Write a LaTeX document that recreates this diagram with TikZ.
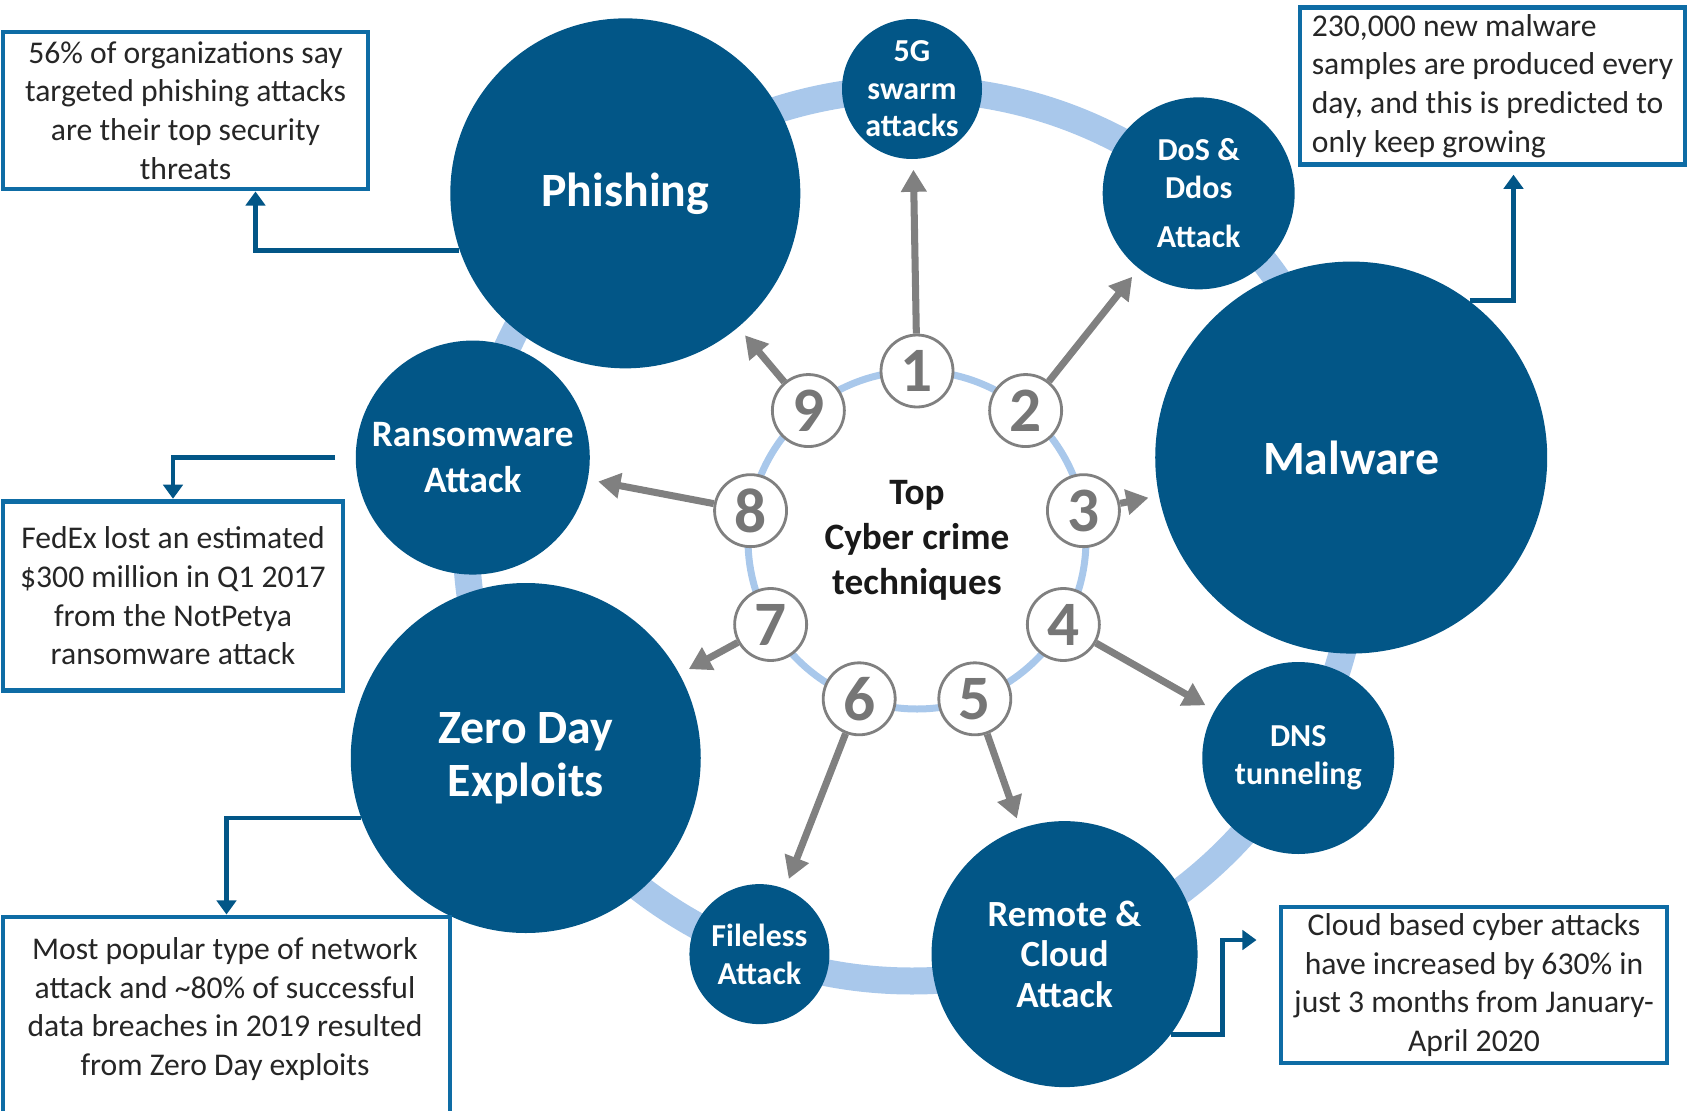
\documentclass[tikz,border=0pt]{standalone}
\usepackage{fontspec}
\setmainfont{Carlito}
\usetikzlibrary{arrows.meta,positioning}

\definecolor{circblue}{RGB}{2,86,135}
\definecolor{ringblue}{RGB}{169,200,235}
\definecolor{boxblue}{RGB}{14,108,165}
\definecolor{spokegray}{RGB}{128,128,128}
\definecolor{numgray}{RGB}{118,118,118}
\definecolor{notegray}{RGB}{38,38,38}

\begin{document}
\begin{tikzpicture}[
				circ/.style = {circle, fill=circblue, text=white, inner sep=0pt, align=center},
				bigtxt/.style = {font=\bfseries\fontsize{13.6}{15}\selectfont},
				smalltxt/.style = {font=\bfseries\fontsize{9.1}{10.7}\selectfont},
				num/.style = {circle, draw=spokegray, line width=0.8pt, fill=white, minimum size=0.72cm,
					inner sep=0pt, text=numgray, font=\bfseries\fontsize{18}{18}\selectfont},
				spoke/.style = {-{Triangle[length=6.3pt,width=7pt]}, spokegray, line width=2pt, shorten >=0.1cm},
				notebox/.style = {draw=boxblue, line width=1.4pt, fill=white, inner sep=0pt,
					text=notegray, font=\fontsize{9}{11}\selectfont},
				callout/.style = {-{Triangle[length=4pt,width=5.5pt]}, circblue, line width=1.3pt}
			]

			\useasboundingbox (0,0) rectangle (16.91,11.10);
			\clip (0,0) rectangle (16.91,11.10);

			% outer ring of attack types
			\begin{scope}[shift={(9.12,5.75)}]
				\draw[ringblue, line width=0.27cm] (0,0) circle (4.46);

				\node[circ, minimum size=1.40cm, smalltxt] (c1) at (90:4.46) {5G\\swarm\\attacks};
				\node[circ, minimum size=1.92cm, smalltxt] (c2) at (50:4.46) {DoS \&\\Ddos\\[3.4pt]Attack};
				\node[circ, minimum size=3.92cm, bigtxt] (c3) at (10:4.46) {Malware};
				\node[circ, minimum size=1.92cm, smalltxt] (c4) at (-30:4.46) {DNS\\tunneling};
				\node[circ, minimum size=2.66cm, font=\bfseries\fontsize{10.5}{11.5}\selectfont] (c5) at (-70:4.46) {Remote \&\\Cloud\\Attack};
				\node[circ, minimum size=1.40cm, smalltxt] (c6) at (-110:4.46) {Fileless\\Attack};
				\node[circ, minimum size=3.50cm, bigtxt] (c7) at (-150:4.46) {Zero Day\\Exploits};
				\node[circ, minimum size=2.34cm, font=\bfseries\fontsize{10.6}{12.9}\selectfont] (c8) at (170:4.46) {Ransomware\\Attack};
				\node[circ, minimum size=3.50cm, bigtxt] (c9) at (130:4.46) {Phishing};
			\end{scope}

			% inner ring with the numbers
			\begin{scope}[shift={(9.17,5.70)}]
				\draw[ringblue, line width=0.07cm] (0,0) circle (1.69);
				\node[align=center, text=black!90, font=\bfseries\fontsize{10.6}{12.8}\selectfont] (title) at (0,0) {Top\\Cyber crime\\techniques};
				\foreach \i in {1,...,9}
					\node[num] (n\i) at ({130-40*\i}:1.69) {\i};
			\end{scope}

			\foreach \i in {1,...,9}
				\draw[spoke] (n\i) -- (c\i);

			% facts
			\node[notebox, minimum width=3.65cm, minimum height=1.57cm, align=center] (note1) at (1.855,9.995)
				{56\% of organizations say\\targeted phishing attacks\\are their top security\\threats};
			\node[notebox, minimum width=3.85cm, minimum height=1.565cm, align=left] (note2) at (14.925,10.24)
				{230,000 new malware\\samples are produced every\\day, and this is predicted to\\only keep growing};
			\node[notebox, minimum width=3.40cm, minimum height=1.895cm, align=center] (note3) at (1.73,5.14)
				{FedEx lost an estimated\\\$300 million in Q1 2017\\from the NotPetya\\ransomware attack};
			\node[notebox, minimum width=4.47cm, minimum height=2.5cm, anchor=north] (note4) at (2.265,1.955) {};
			\node[text=notegray, font=\fontsize{9}{11}\selectfont, align=center] (note4txt) at (2.25,1.01)
				{Most popular type of network\\attack and \textasciitilde80\% of successful\\data breaches in 2019 resulted\\from Zero Day exploits};
			\node[notebox, minimum width=3.86cm, minimum height=1.56cm, align=center] (note5) at (14.74,1.25)
				{Cloud based cyber attacks\\have increased by 630\% in\\just 3 months from January-\\April 2020};

			\draw[callout] (c9.199) -| ([xshift=0.70cm]note1.south);
			\draw[callout, shorten >=0.08cm] (c3.53) -| ([xshift=0.21cm]note2.south);
			\draw[callout] ([xshift=-0.2cm]c8.west) -| (note3.north);
			\draw[callout] (c7.200) -| (note4.north);
			\draw[callout] (c5.-37) -| ([xshift=-0.56cm,yshift=0.45cm]note5.west) -- ([xshift=-0.22cm,yshift=0.45cm]note5.west);

			\end{tikzpicture}
\end{document}
